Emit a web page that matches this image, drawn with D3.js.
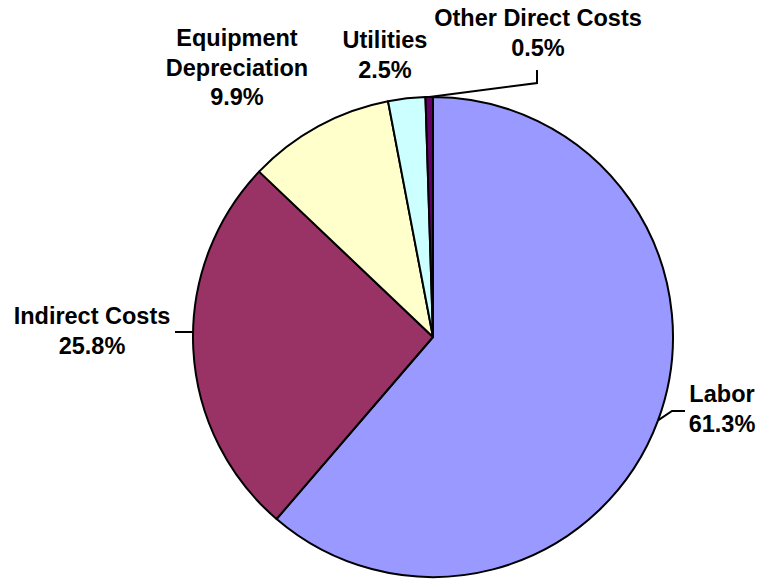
<!DOCTYPE html>
<html>
<head>
<meta charset="utf-8">
<script src="https://cdn.jsdelivr.net/npm/d3@7"></script>
<style>
  body { margin: 0; background: #fff; }
  text { font-family: "Liberation Sans", Arial, sans-serif; font-weight: bold; font-size: 23.5px; fill: #000; }
</style>
</head>
<body>
<div class="chart"></div>
<script>
const categories = ["Labor", "Indirect Costs", "Equipment Depreciation", "Utilities", "Other Direct Costs"];
const values = [61.3, 25.8, 9.9, 2.5, 0.5];
const labelLines = [["Labor"], ["Indirect Costs"], ["Equipment", "Depreciation"], ["Utilities"], ["Other Direct Costs"]];
const colors = ["#9999ff", "#993366", "#ffffcc", "#ccffff", "#660066"];

const width = 757, height = 580;
const cx = 433, cy = 337, radius = 240;

// label placement (center x, first baseline, leader path)
const layout = [
  {x: 722, y: 402, leader: a => [a.mid, [672, 411], [685, 411]]},
  {x: 92, y: 324, leader: a => [[cx - Math.sqrt(radius * radius - 25), 332], [175, 332]]},
  {x: 237, y: 46, leader: null},
  {x: 385, y: 48, leader: null},
  {x: 538, y: 26, leader: a => [a.mid, [537, 83], [537, 70]]}
];
const lineH = 29.5;

const svg = d3.select(".chart")
  .append("svg")
  .attr("width", width)
  .attr("height", height);

const data = categories.map((c, i) => ({name: c, value: values[i], i: i}));

const pie = d3.pie()
  .sort(null)
  .value(d => d.value);

const arc = d3.arc()
  .innerRadius(0)
  .outerRadius(radius);

const arcs = pie(data);

const g = svg.append("g")
  .attr("transform", `translate(${cx},${cy})`);

g.selectAll("path")
  .data(arcs)
  .enter()
  .append("path")
  .attr("d", arc)
  .attr("fill", d => colors[d.data.i])
  .attr("stroke", "black")
  .attr("stroke-width", 2)
  .attr("stroke-linejoin", "round");

// leader lines
arcs.forEach((a, i) => {
  const lay = layout[i];
  if (!lay.leader) return;
  const m = (a.startAngle + a.endAngle) / 2;
  const mid = [cx + radius * Math.sin(m), cy - radius * Math.cos(m)];
  const pts = lay.leader({mid: mid});
  svg.append("path")
    .attr("d", d3.line()(pts))
    .attr("fill", "none")
    .attr("stroke", "black")
    .attr("stroke-width", 2);
});

// labels
arcs.forEach((a, i) => {
  const lay = layout[i];
  const lines = labelLines[i].concat([d3.format(".1f")(a.data.value) + "%"]);
  const t = svg.append("text")
    .attr("text-anchor", "middle");
  lines.forEach((l, k) => {
    t.append("tspan")
      .attr("x", lay.x)
      .attr("y", lay.y + k * lineH)
      .text(l);
  });
});
</script>
</body>
</html>
